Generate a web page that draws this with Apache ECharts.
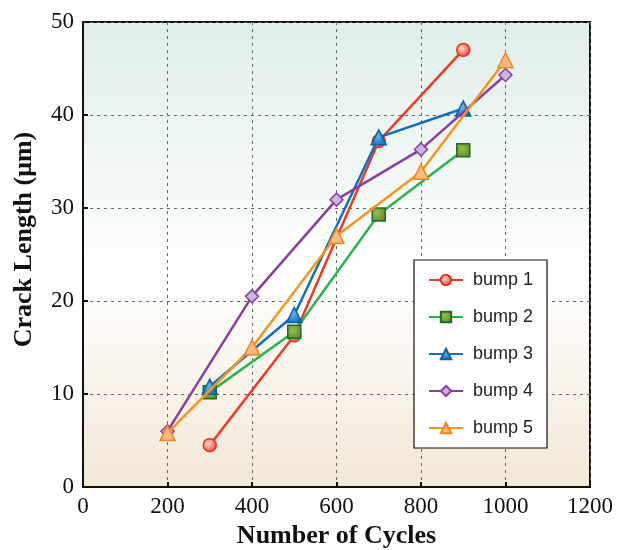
<!DOCTYPE html>
<html>
<head>
<meta charset="utf-8">
<script src="https://cdn.jsdelivr.net/npm/echarts@6/dist/echarts.min.js"></script>
<style>
  html, body { margin: 0; padding: 0; background: #fff; }
  #chart { width: 618px; height: 550px; }
</style>
</head>
<body>
<div id="chart"></div>
<script>
// crack length vs number of cycles
const seriesNames = ['bump 1', 'bump 2', 'bump 3', 'bump 4', 'bump 5']
const bump1 = [[300, 4.5], [500, 16.3], [700, 37.2], [900, 47.0]]
const bump2 = [[300, 10.2], [500, 16.7], [700, 29.3], [900, 36.2]]
const bump3 = [[300, 10.8], [500, 18.5], [700, 37.6], [900, 40.7]]
const bump4 = [[200, 6.0], [400, 20.5], [600, 30.9], [800, 36.3], [1000, 44.3]]
const bump5 = [[200, 5.8], [400, 15.0], [600, 27.0], [800, 33.9], [1000, 45.9]]

const serif = '"Liberation Serif", "DejaVu Serif", serif'
const sans = '"Liberation Sans", Arial, sans-serif'

const radial = (inner, outer) => new echarts.graphic.RadialGradient(0.4, 0.4, 0.6, [
  { offset: 0, color: inner },
  { offset: 1, color: outer }
])

// line colour, marker, marker fill, marker border
const styles = [
  { color: '#ee3a24', symbol: 'circle', size: 13, fill: radial('#fde0d0', '#f0402a'), border: '#e8321e' },
  { color: '#2bb24c', symbol: 'rect', size: 13, fill: radial('#9cc04a', '#5e8f2c'), border: '#1f6b2e' },
  { color: '#1070bf', symbol: 'triangle', size: 15, fill: radial('#6fb8ec', '#1272c0'), border: '#0d5ea6' },
  { color: '#8a3fa0', symbol: 'diamond', size: 13, fill: '#c9b6e0', border: '#8a3fa0' },
  { color: '#f7941d', symbol: 'triangle', size: 15, fill: '#fbb980', border: '#f5851a' }
]
const data = [bump1, bump2, bump3, bump4, bump5]

const chart = echarts.init(document.getElementById('chart'))

const option = {
  animation: false,
  grid: {
    left: 83, right: 28, top: 22, bottom: 63,
    containLabel: false,
    outerBoundsMode: 'none',
    show: true,
    borderColor: '#111',
    borderWidth: 2,
    backgroundColor: new echarts.graphic.LinearGradient(0, 0, 0, 1, [
      { offset: 0, color: '#dfeee9' },
      { offset: 0.55, color: '#ffffff' },
      { offset: 1, color: '#f2e7d5' }
    ])
  },
  legend: {
    orient: 'vertical',
    left: 414, top: 260,
    padding: [11, 14, 11, 14],
    itemGap: 19,
    itemWidth: 34, itemHeight: 13,
    backgroundColor: '#fff',
    borderColor: '#111',
    borderWidth: 1.2,
    textStyle: { fontFamily: sans, fontSize: 18, color: '#222', padding: [0, 0, 0, 5] },
    data: seriesNames
  },
  xAxis: {
    type: 'value',
    min: 0, max: 1200, interval: 200,
    name: 'Number of Cycles',
    nameLocation: 'middle',
    nameGap: 35,
    nameTextStyle: { fontFamily: serif, fontSize: 26, fontWeight: 'bold', color: '#111' },
    axisLine: { lineStyle: { color: '#111', width: 2 } },
    axisTick: { inside: true, length: 5, lineStyle: { color: '#111', width: 2 } },
    axisLabel: { fontFamily: serif, fontSize: 23, color: '#111', margin: 8, formatter: v => String(v) },
    splitLine: { show: true, lineStyle: { color: '#666', type: [3, 4], width: 1 } }
  },
  yAxis: {
    type: 'value',
    min: 0, max: 50, interval: 10,
    name: 'Crack Length (μm)',
    nameLocation: 'middle',
    nameGap: 46,
    nameTextStyle: { fontFamily: serif, fontSize: 26, fontWeight: 'bold', color: '#111', padding: [0, 0, 0, 30] },
    axisLine: { show: true, lineStyle: { color: '#111', width: 2 } },
    axisTick: { show: true, inside: true, length: 5, lineStyle: { color: '#111', width: 2 } },
    axisLabel: { fontFamily: serif, fontSize: 23, color: '#111', margin: 9 },
    splitLine: { show: true, lineStyle: { color: '#666', type: [3, 4], width: 1 } }
  },
  series: seriesNames.map((name, i) => ({
    name: name,
    type: 'line',
    data: data[i],
    symbol: styles[i].symbol,
    symbolSize: styles[i].size,
    showAllSymbol: true,
    lineStyle: { color: styles[i].color, width: 2.5 },
    itemStyle: { color: styles[i].fill, borderColor: styles[i].border, borderWidth: 1.5 },
    z: 2 + i
  }))
}

chart.setOption(option)
</script>
</body>
</html>
